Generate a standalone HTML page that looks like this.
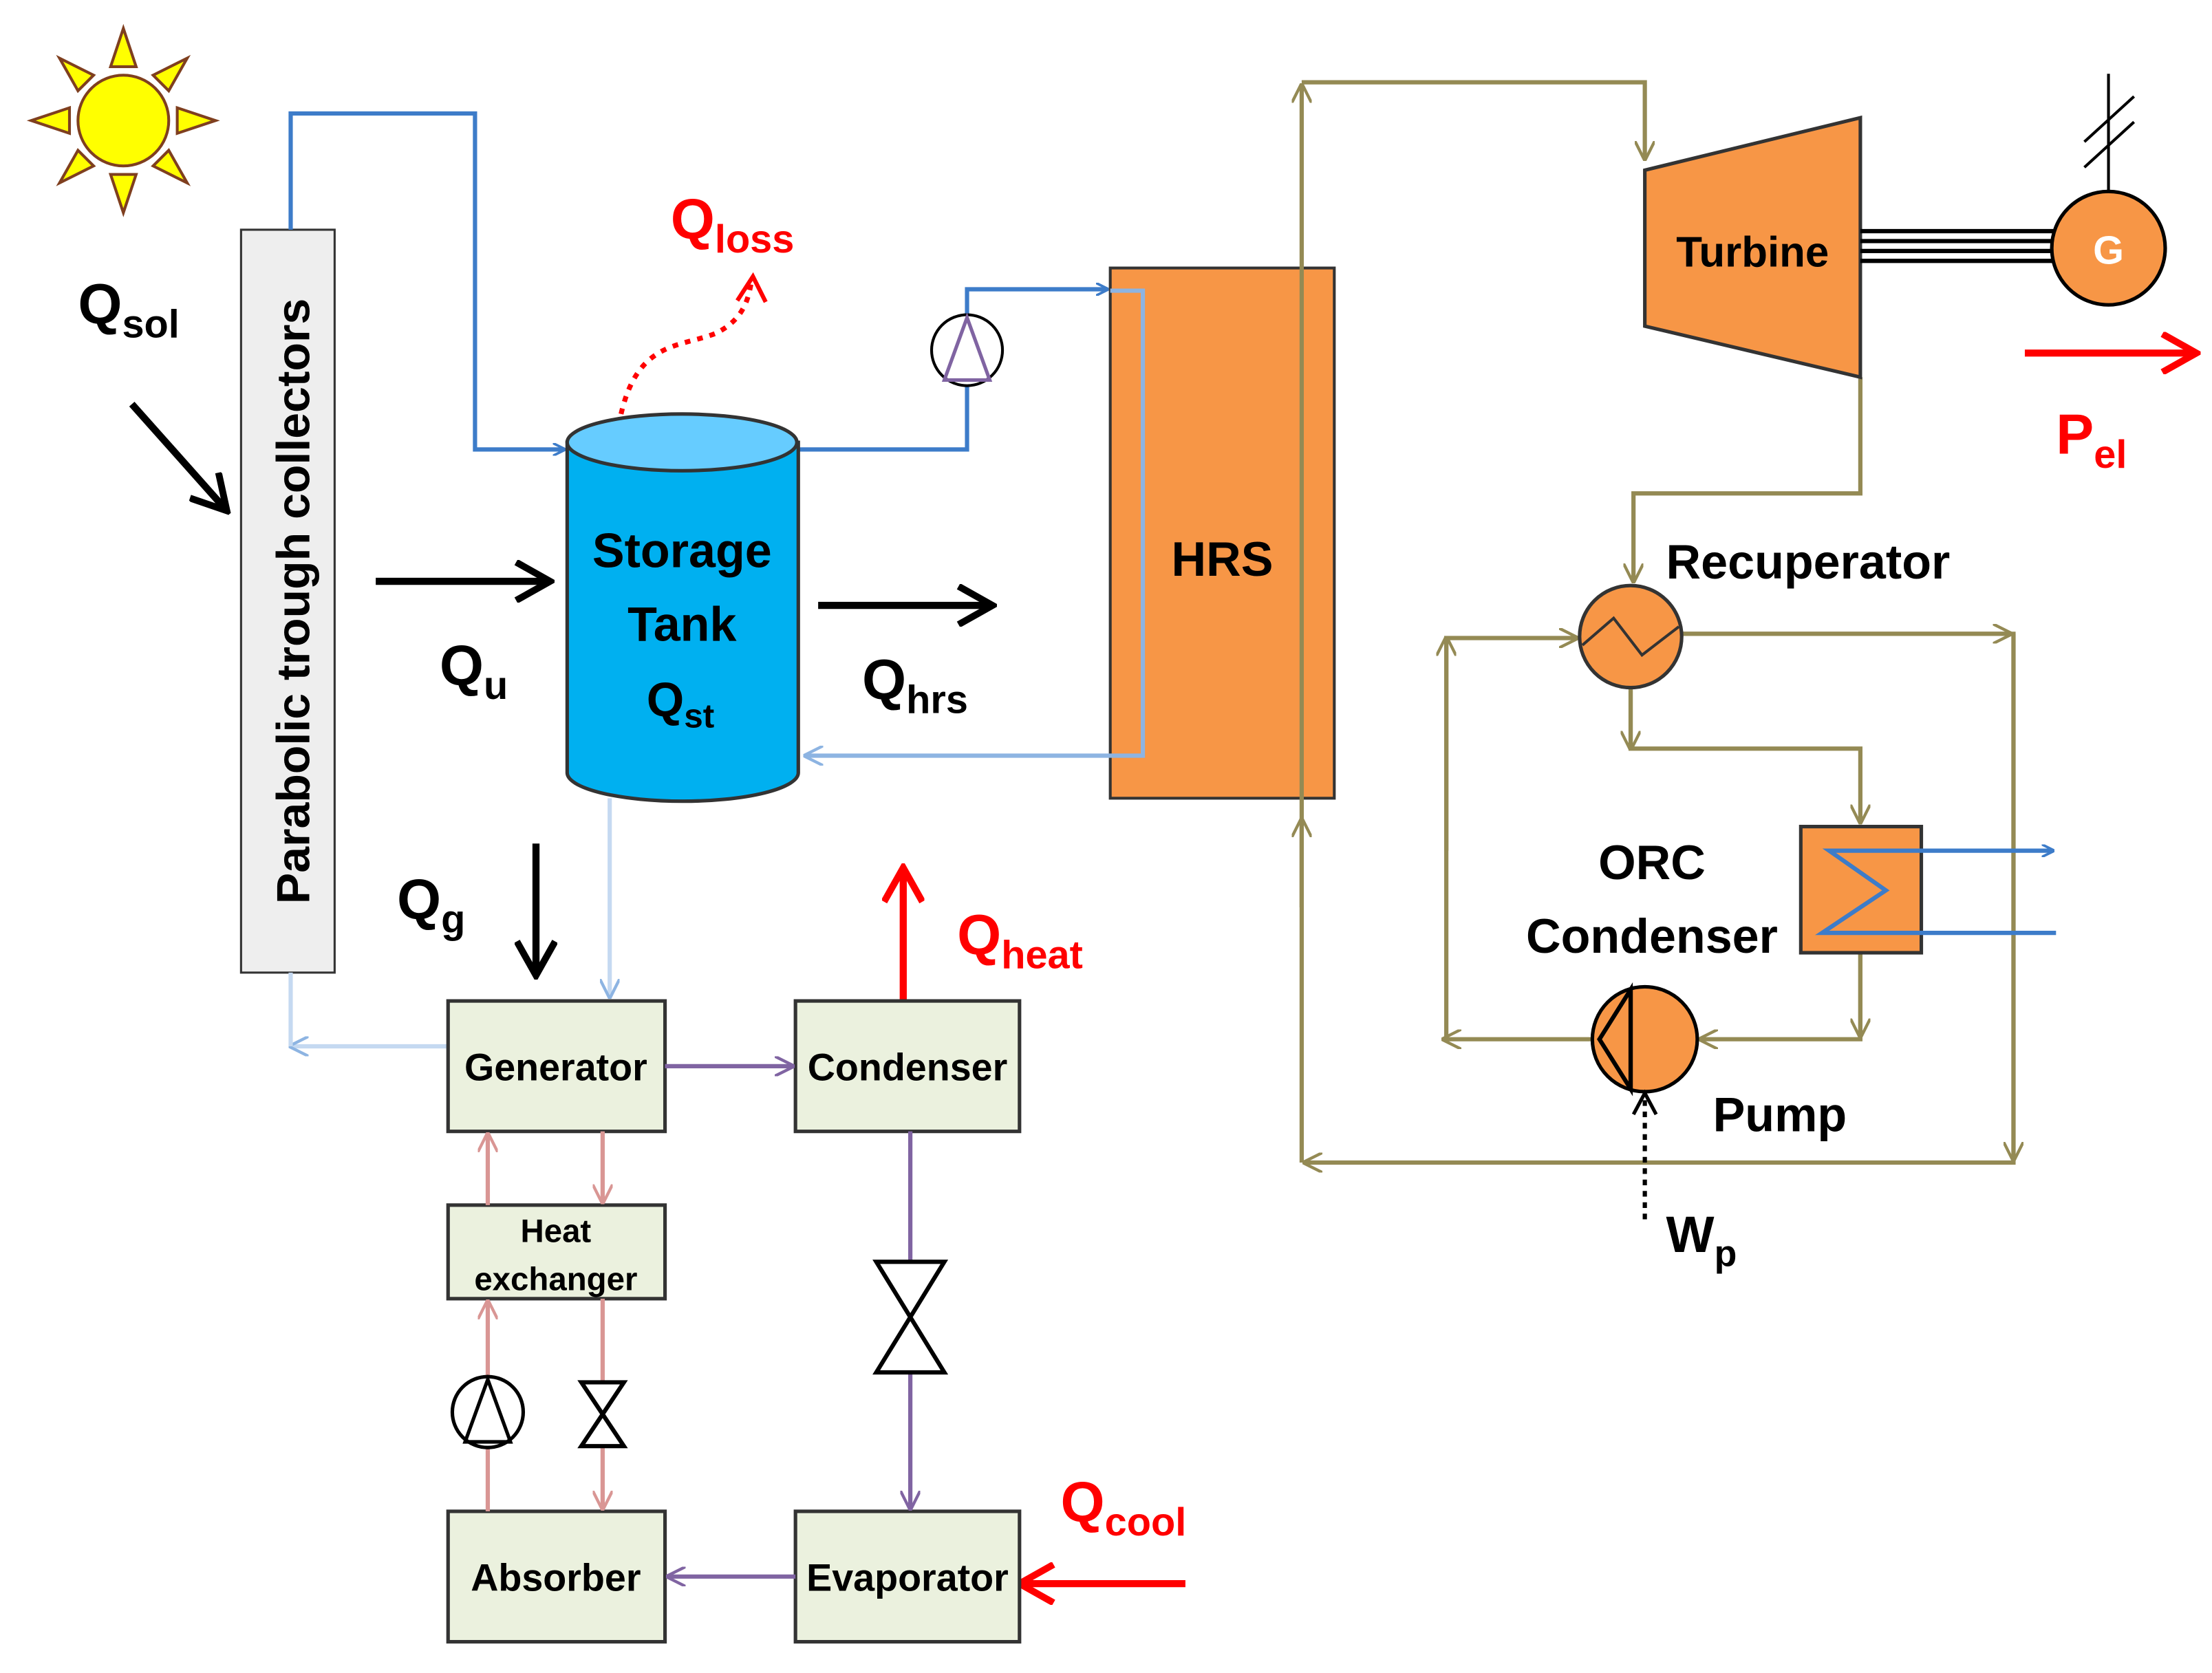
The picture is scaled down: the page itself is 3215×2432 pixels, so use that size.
<!DOCTYPE html>
<html><head><meta charset="utf-8"><style>
html,body{margin:0;padding:0;background:#fff}
svg{display:block}
text{font-family:"Liberation Sans",sans-serif;font-weight:bold}
</style></head><body>
<svg width="3215" height="2432" viewBox="0 0 1560 1180" xmlns="http://www.w3.org/2000/svg">
<defs>
<marker id="ab" viewBox="0 0 10 10" refX="9" refY="5" markerWidth="9" markerHeight="9" orient="auto" markerUnits="userSpaceOnUse"><path d="M0,0 L10,5 L0,10" fill="none" stroke="#3d7cc9" stroke-width="2"/></marker>
<marker id="alb" viewBox="0 0 10 10" refX="9" refY="5" markerWidth="14" markerHeight="14" orient="auto" markerUnits="userSpaceOnUse"><path d="M0,0 L10,5 L0,10" fill="none" stroke="#8db4e2" stroke-width="1.5"/></marker>
<marker id="ao" viewBox="0 0 10 10" refX="9" refY="5" markerWidth="14" markerHeight="14" orient="auto" markerUnits="userSpaceOnUse"><path d="M0,0 L10,5 L0,10" fill="none" stroke="#948a54" stroke-width="1.5"/></marker>
<marker id="ap" viewBox="0 0 10 10" refX="9" refY="5" markerWidth="14" markerHeight="14" orient="auto" markerUnits="userSpaceOnUse"><path d="M0,0 L10,5 L0,10" fill="none" stroke="#8064a2" stroke-width="1.5"/></marker>
<marker id="apk" viewBox="0 0 10 10" refX="9" refY="5" markerWidth="14" markerHeight="14" orient="auto" markerUnits="userSpaceOnUse"><path d="M0,0 L10,5 L0,10" fill="none" stroke="#d99694" stroke-width="1.5"/></marker>
<marker id="ak" viewBox="0 0 10 10" refX="8" refY="5" markerWidth="30" markerHeight="30" orient="auto" markerUnits="userSpaceOnUse"><path d="M1,0.5 L9,5 L1,9.5" fill="none" stroke="#000" stroke-width="1.6"/></marker>
<marker id="ar" viewBox="0 0 10 10" refX="8" refY="5" markerWidth="30" markerHeight="30" orient="auto" markerUnits="userSpaceOnUse"><path d="M1,0.5 L9,5 L1,9.5" fill="none" stroke="#f00" stroke-width="1.6"/></marker>
</defs>

<!-- Sun -->
<g stroke="#7f3f1f" stroke-width="2" fill="#ffff00">
<circle cx="87" cy="85" r="32"/>
<polygon points="78,47 96,47 87,20"/><polygon points="78,123 96,123 87,150"/>
<polygon points="49,76 49,94 22,85"/><polygon points="125,76 125,94 152,85"/>
<polygon points="55,64 66,53 42,41"/><polygon points="108,53 119,64 132,41"/>
<polygon points="55,106 66,117 42,129"/><polygon points="108,117 119,106 132,129"/>
</g>

<!-- Collector -->
<rect x="170" y="162" width="66" height="524" fill="#eeeeee" stroke="#333" stroke-width="1.5"/>
<text transform="translate(218,424) rotate(-90)" text-anchor="middle" font-size="33">Parabolic trough collectors</text>

<!-- blue loop -->
<polyline points="205,162 205,80 335,80 335,317 398,317" fill="none" stroke="#3d7cc9" stroke-width="3" marker-end="url(#ab)"/>
<polyline points="563,317 682,317 682,272" fill="none" stroke="#3d7cc9" stroke-width="3"/>
<polyline points="682,222 682,204 781,204" fill="none" stroke="#3d7cc9" stroke-width="3" marker-end="url(#ab)"/>

<!-- HRS -->
<rect x="783" y="189" width="158" height="374" fill="#f79646" stroke="#333" stroke-width="2"/>
<polyline points="783,205 806,205 806,533 568,533" fill="none" stroke="#8db4e2" stroke-width="3" marker-end="url(#alb)"/>
<text x="862" y="406" text-anchor="middle" font-size="34">HRS</text>

<!-- pump in blue loop -->
<circle cx="682" cy="247" r="25" fill="#fff" stroke="#000" stroke-width="2"/>
<polygon points="682,224 666,268 698,268" fill="none" stroke="#8064a2" stroke-width="2.5"/>

<!-- Tank -->
<path d="M400,312 L400,545 A81,20 0 0 0 563,545 L563,312 Z" fill="#00b0f0" stroke="#333" stroke-width="2.5"/>
<ellipse cx="481" cy="312" rx="81" ry="20" fill="#66ccff" stroke="#333" stroke-width="2.5"/>
<text x="481" y="400" text-anchor="middle" font-size="34">Storage</text>
<text x="481" y="452" text-anchor="middle" font-size="34">Tank</text>
<text x="456" y="505" font-size="34">Q<tspan font-size="24" dy="8">st</tspan></text>

<!-- Qloss -->
<path d="M438,292 C450,240 480,245 505,235 C525,225 528,210 530,198" fill="none" stroke="#f00" stroke-width="3.5" stroke-dasharray="4,5"/>
<path d="M520,212 L531,195 L540,213" fill="none" stroke="#f00" stroke-width="3"/>
<text x="473" y="168" font-size="40" fill="#f00">Q<tspan font-size="28" dy="10">loss</tspan></text>

<!-- labels & big arrows -->
<text x="55" y="228" font-size="40">Q<tspan font-size="28" dy="10">sol</tspan></text>
<line x1="93" y1="285" x2="158" y2="358" stroke="#000" stroke-width="5" marker-end="url(#ak)"/>
<line x1="265" y1="410" x2="385" y2="410" stroke="#000" stroke-width="5" marker-end="url(#ak)"/>
<text x="310" y="483" font-size="40">Q<tspan font-size="28" dy="10">u</tspan></text>
<line x1="577" y1="427" x2="697" y2="427" stroke="#000" stroke-width="5" marker-end="url(#ak)"/>
<text x="608" y="493" font-size="40">Q<tspan font-size="28" dy="10">hrs</tspan></text>
<line x1="378" y1="595" x2="378" y2="685" stroke="#000" stroke-width="5" marker-end="url(#ak)"/>
<text x="280" y="648" font-size="40">Q<tspan font-size="28" dy="10">g</tspan></text>
<line x1="637" y1="705" x2="637" y2="615" stroke="#f00" stroke-width="5" marker-end="url(#ar)"/>
<text x="675" y="673" font-size="40" fill="#f00">Q<tspan font-size="28" dy="10">heat</tspan></text>
<line x1="836" y1="1117" x2="722" y2="1117" stroke="#f00" stroke-width="5" marker-end="url(#ar)"/>
<text x="748" y="1073" font-size="40" fill="#f00">Q<tspan font-size="28" dy="10">cool</tspan></text>

<!-- light blue tank->generator, generator->collector -->
<line x1="430" y1="563" x2="430" y2="703" stroke="#c5d9f1" stroke-width="3" marker-end="url(#alb)"/>
<polyline points="316,738 205,738" fill="none" stroke="#c5d9f1" stroke-width="3" marker-end="url(#alb)"/>
<line x1="205" y1="686" x2="205" y2="738" stroke="#c5d9f1" stroke-width="3"/>

<!-- chiller boxes -->
<g fill="#ebf1de" stroke="#333" stroke-width="2.5">
<rect x="316" y="706" width="153" height="92"/>
<rect x="561" y="706" width="158" height="92"/>
<rect x="316" y="850" width="153" height="66"/>
<rect x="316" y="1066" width="153" height="92"/>
<rect x="561" y="1066" width="158" height="92"/>
</g>
<text x="392" y="762" text-anchor="middle" font-size="27">Generator</text>
<text x="640" y="762" text-anchor="middle" font-size="27">Condenser</text>
<text x="392" y="876" text-anchor="middle" font-size="23">Heat</text>
<text x="392" y="910" text-anchor="middle" font-size="23">exchanger</text>
<text x="392" y="1122" text-anchor="middle" font-size="27">Absorber</text>
<text x="640" y="1122" text-anchor="middle" font-size="27">Evaporator</text>

<!-- purple -->
<line x1="469" y1="752" x2="559" y2="752" stroke="#8064a2" stroke-width="3" marker-end="url(#ap)"/>
<line x1="642" y1="798" x2="642" y2="890" stroke="#8064a2" stroke-width="3"/>
<line x1="642" y1="968" x2="642" y2="1064" stroke="#8064a2" stroke-width="3" marker-end="url(#ap)"/>
<line x1="561" y1="1112" x2="471" y2="1112" stroke="#8064a2" stroke-width="3" marker-end="url(#ap)"/>
<polygon points="618,890 666,890 618,968 666,968" fill="#fff" stroke="#000" stroke-width="3"/>

<!-- pink -->
<line x1="344" y1="1066" x2="344" y2="1021" stroke="#d99694" stroke-width="3"/>
<line x1="344" y1="971" x2="344" y2="918" stroke="#d99694" stroke-width="3" marker-end="url(#apk)"/>
<line x1="344" y1="850" x2="344" y2="800" stroke="#d99694" stroke-width="3" marker-end="url(#apk)"/>
<line x1="425" y1="798" x2="425" y2="848" stroke="#d99694" stroke-width="3" marker-end="url(#apk)"/>
<line x1="425" y1="916" x2="425" y2="975" stroke="#d99694" stroke-width="3"/>
<line x1="425" y1="1020" x2="425" y2="1064" stroke="#d99694" stroke-width="3" marker-end="url(#apk)"/>
<circle cx="344" cy="996" r="25" fill="#fff" stroke="#000" stroke-width="2.5"/>
<polygon points="344,973 328,1017 360,1017" fill="none" stroke="#000" stroke-width="2.5"/>
<polygon points="410,975 440,975 410,1020 440,1020" fill="#fff" stroke="#000" stroke-width="3"/>

<!-- ORC olive lines -->
<g fill="none" stroke="#948a54" stroke-width="3">
<polyline points="918,820 918,60" marker-end="url(#ao)"/>
<line x1="918" y1="640" x2="918" y2="578" marker-end="url(#ao)"/>
<polyline points="918,58 1160,58 1160,112" marker-end="url(#ao)"/>
<polyline points="1312,266 1312,348 1152,348 1152,410" marker-end="url(#ao)"/>
<polyline points="1186,447 1420,447 1420,820 920,820" marker-end="url(#ao)"/>
<line x1="1420" y1="447" x2="1420" y2="818" marker-end="url(#ao)"/>
<line x1="1186" y1="447" x2="1418" y2="447" marker-end="url(#ao)"/>
<polyline points="1020,733 1020,450 1112,450" marker-end="url(#ao)"/>
<line x1="1020" y1="600" x2="1020" y2="450" marker-end="url(#ao)"/>
<polyline points="1150,485 1150,528 1312,528 1312,580" marker-end="url(#ao)"/>
<line x1="1150" y1="485" x2="1150" y2="528" marker-end="url(#ao)"/>
<polyline points="1312,672 1312,733 1199,733" marker-end="url(#ao)"/>
<line x1="1312" y1="672" x2="1312" y2="731" marker-end="url(#ao)"/>
<line x1="1123" y1="733" x2="1018" y2="733" marker-end="url(#ao)"/>
</g>

<!-- Turbine -->
<polygon points="1160,120 1312,83 1312,266 1160,230" fill="#f79646" stroke="#333" stroke-width="2.5"/>
<text x="1236" y="188" text-anchor="middle" font-size="30">Turbine</text>
<g stroke="#000" stroke-width="3">
<line x1="1312" y1="163" x2="1450" y2="163"/>
<line x1="1312" y1="170" x2="1450" y2="170"/>
<line x1="1312" y1="177" x2="1450" y2="177"/>
<line x1="1312" y1="184" x2="1450" y2="184"/>
<line x1="1487" y1="135" x2="1487" y2="52" stroke-width="2"/>
<line x1="1470" y1="100" x2="1505" y2="68" stroke-width="2"/>
<line x1="1470" y1="118" x2="1505" y2="86" stroke-width="2"/>
</g>
<circle cx="1487" cy="175" r="40" fill="#f79646" stroke="#000" stroke-width="2.5"/>
<text x="1487" y="186" text-anchor="middle" font-size="28" fill="#fff">G</text>
<line x1="1428" y1="249" x2="1546" y2="249" stroke="#f00" stroke-width="5" marker-end="url(#ar)"/>
<text x="1450" y="320" font-size="40" fill="#f00">P<tspan font-size="28" dy="10">el</tspan></text>

<!-- Recuperator -->
<circle cx="1150" cy="449" r="36" fill="#f79646" stroke="#333" stroke-width="2.5"/>
<polyline points="1116,455 1138,436 1158,462 1184,442" fill="none" stroke="#333" stroke-width="2"/>
<text x="1175" y="408" font-size="34">Recuperator</text>

<!-- ORC condenser -->
<rect x="1270" y="583" width="85" height="89" fill="#f79646" stroke="#333" stroke-width="2.5"/>
<polyline points="1450,658 1285,658 1330,628 1290,600 1448,600" fill="none" stroke="#3d7cc9" stroke-width="3" marker-end="url(#ab)"/>
<text x="1165" y="620" text-anchor="middle" font-size="34">ORC</text>
<text x="1165" y="672" text-anchor="middle" font-size="34">Condenser</text>

<!-- Pump -->
<circle cx="1160" cy="733" r="37" fill="#f79646" stroke="#000" stroke-width="2.5"/>
<polygon points="1150,698 1128,733 1150,768" fill="none" stroke="#000" stroke-width="3"/>
<line x1="1150" y1="698" x2="1150" y2="768" stroke="#000" stroke-width="3"/>
<text x="1208" y="798" font-size="34">Pump</text>
<line x1="1160" y1="860" x2="1160" y2="772" stroke="#000" stroke-width="3" stroke-dasharray="4,4"/>
<path d="M1152,786 L1160,771 L1168,786" fill="none" stroke="#000" stroke-width="2.5"/>
<text x="1175" y="883" font-size="36">W<tspan font-size="26" dy="10">p</tspan></text>
</svg>
</body></html>
